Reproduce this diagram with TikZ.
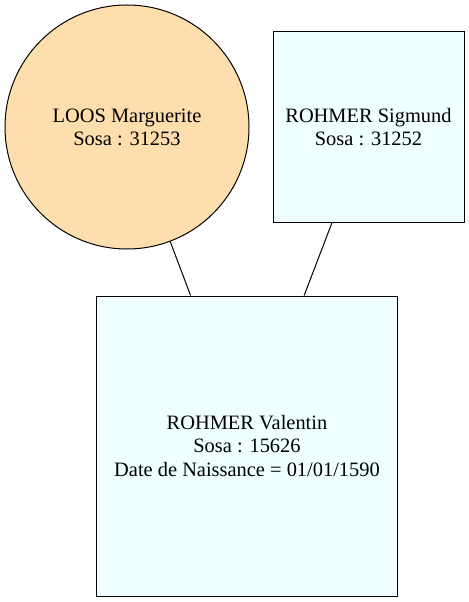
\documentclass[tikz,border=0pt]{standalone}
\usepackage{fontspec}
\setmainfont{Liberation Serif}
\newfontfamily\timesfam{Liberation Serif}
\definecolor{navaj}{HTML}{FFDEAD}
\definecolor{azurec}{HTML}{F0FFFF}
\begin{document}
\begin{tikzpicture}[x=1bp,y=-1bp,
  person/.style={draw=black, line width=1bp, align=center, inner sep=0pt,
    font=\timesfam\fontsize{20.5}{23.3}\selectfont},
  circperson/.style={person, circle, fill=navaj, minimum size=244bp},
  boxperson/.style={person, rectangle, fill=azurec},
  link/.style={draw=black, line width=1bp}]
\useasboundingbox (0,0) rectangle (469,602);
\node[circperson] (loos) at (127,127) {LOOS Marguerite\\Sosa : 31253};
\node[boxperson, minimum width=191bp, minimum height=190bp] (sig) at (368.5,127) {ROHMER Sigmund\\Sosa : 31252};
\node[boxperson, minimum width=300bp, minimum height=300bp] (val) at (247,446) {ROHMER Valentin\\Sosa : 15626\\Date de Naissance = 01/01/1590};
\draw[link] (loos) -- (val);
\draw[link] (sig) -- (val);
\end{tikzpicture}
\end{document}
